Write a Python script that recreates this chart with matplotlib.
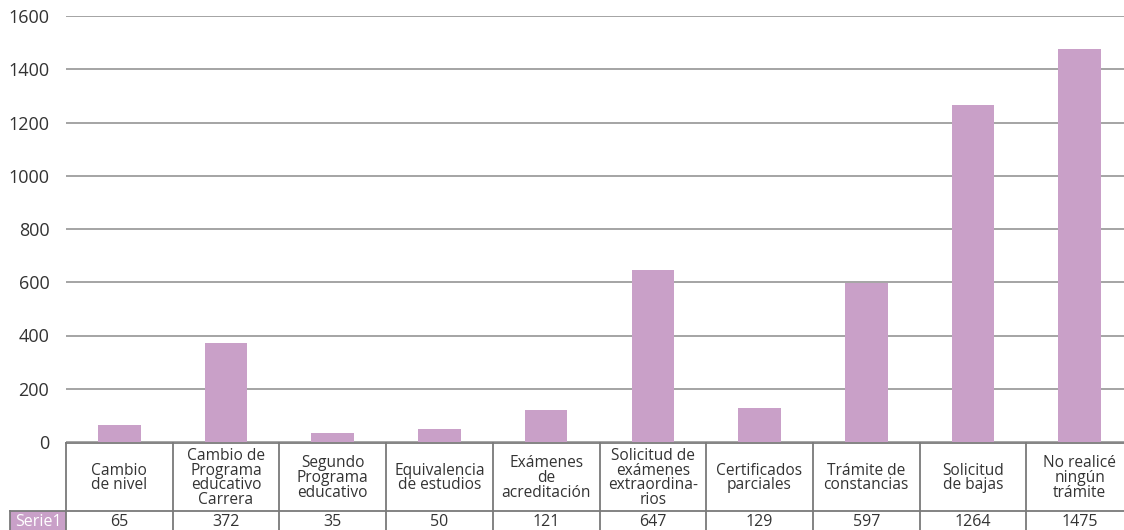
import matplotlib

matplotlib.use("Agg")
import matplotlib.pyplot as plt
from matplotlib.patches import Rectangle

plt.rcParams["font.family"] = ["Open Sans", "DejaVu Sans"]

categories = [
    "Cambio\nde nivel",
    "Cambio de\nPrograma\neducativo\nCarrera",
    "Segundo\nPrograma\neducativo",
    "Equivalencia\nde estudios",
    "Exámenes\nde\nacreditación",
    "Solicitud de\nexámenes\nextraordina-\nrios",
    "Certificados\nparciales",
    "Trámite de\nconstancias",
    "Solicitud\nde bajas",
    "No realicé\nningún\ntrámite",
]
values = [65, 372, 35, 50, 121, 647, 129, 597, 1264, 1475]
series_name = "Serie1"
yticks = [0, 200, 400, 600, 800, 1000, 1200, 1400, 1600]

BAR = "#c9a0c8"
GRID = "#8c8c8c"
EDGE = "#7a7a7a"
INK = "#333333"

W, H = 1124, 530
fig = plt.figure(figsize=(W / 100, H / 100), dpi=100)

# plot area in pixels; the last column runs past the right edge
x0, x1 = 66, 1133
y_top, y_zero = 16, 442
ax = fig.add_axes([x0 / W, (H - y_zero) / H, (x1 - x0) / W, (y_zero - y_top) / H])
n = len(values)
xs = list(range(n))
ax.bar(xs, values, width=0.40, color=BAR, zorder=3)
ax.set_xlim(-0.5, n - 0.5)
ax.set_ylim(0, 1600)
ax.set_yticks(yticks)
ax.set_yticklabels([str(v) for v in yticks], fontsize=13, color=INK)
ax.tick_params(axis="y", length=0, pad=12)
ax.set_xticks([])
ax.grid(axis="y", color=GRID, lw=1.1, zorder=0)
for s in ax.spines.values():
    s.set_visible(False)

# data table under the bars
t_top, t_mid, t_bot = 443, 511, 533
tab = fig.add_axes([x0 / W, (H - t_bot) / H, (x1 - x0) / W, (t_bot - t_top) / H])
tab.set_xlim(-0.5, n - 0.5)
tab.set_ylim(t_bot, t_top)
tab.axis("off")
lw = 1.3
tab.plot([-0.5, n - 0.5], [t_top, t_top], color=EDGE, lw=lw, clip_on=False)
legend_left = -0.5 - (x0 - 10) / ((x1 - x0) / n)
tab.plot([legend_left, n - 0.5], [t_mid, t_mid], color=EDGE, lw=lw, clip_on=False)
for i in range(n + 1):
    tab.plot([i - 0.5, i - 0.5], [t_top, t_bot], color=EDGE, lw=lw, clip_on=False)
tab.plot([legend_left, legend_left], [t_mid, t_bot], color=EDGE, lw=lw, clip_on=False)
tab.add_patch(Rectangle((legend_left, t_mid), -0.5 - legend_left, t_bot - t_mid,
                        facecolor=BAR, edgecolor="none", clip_on=False, zorder=0))
tab.text((legend_left - 0.5) / 2, t_mid + 11, series_name, ha="center", va="center",
         fontsize=11.5, color="white")
for i, (c, v) in enumerate(zip(categories, values)):
    tab.text(i, (t_top + t_mid) / 2 + 1, c, ha="center", va="center",
             fontsize=11.2, color=INK, linespacing=0.9)
    tab.text(i, t_mid + 11, str(v), ha="center", va="center",
             fontsize=11.5, color=INK)

fig.savefig("out.png", dpi=100)
